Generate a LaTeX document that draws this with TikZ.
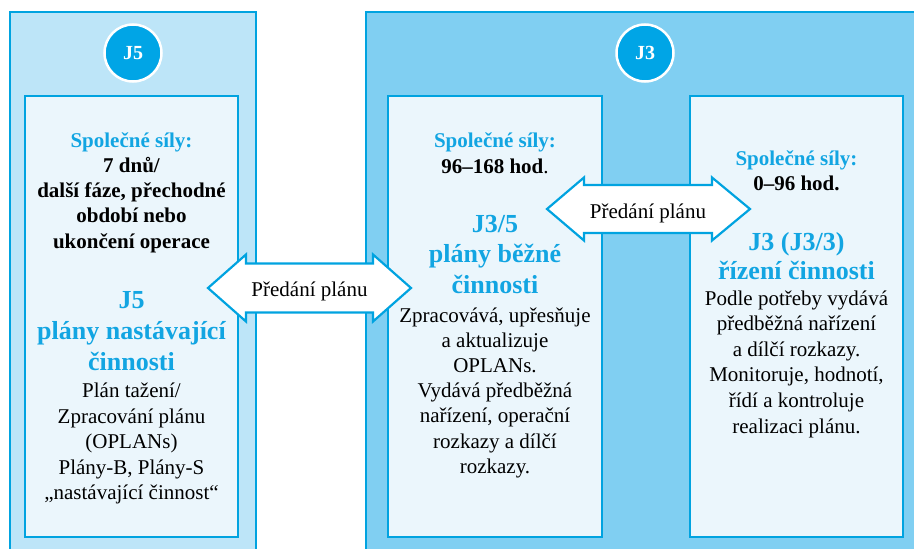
\documentclass[tikz,border=0pt]{standalone}
\usepackage{fontspec}
\setmainfont{Liberation Serif}
\definecolor{edgeblue}{HTML}{00A3E0}
\definecolor{titleblue}{HTML}{12A5E2}
\definecolor{badgeblue}{HTML}{00A5E6}
\definecolor{paneA}{HTML}{BDE5F8}
\definecolor{paneB}{HTML}{80CFF2}
\definecolor{cardfill}{HTML}{EBF6FC}
\tikzset{
  panel/.style={draw=edgeblue, line width=2pt},
  card/.style={fill=cardfill, draw=edgeblue, line width=2pt},
  badge/.style={circle, fill=badgeblue, draw=white, line width=2.5pt,
    minimum size=57pt, inner sep=0pt, text=white,
    font=\bfseries\fontsize{20}{22}\selectfont},
  handover/.style={fill=white, draw=edgeblue, line width=2.2pt, line join=miter},
  % multi-line text nodes are placed by the baseline of their last line
  txt/.style={align=center, anchor=base, inner sep=0pt},
  lead/.style={txt, font=\bfseries\fontsize{21}{25.3}\selectfont},
  heading/.style={txt, text=titleblue, font=\bfseries\fontsize{26}{30.5}\selectfont},
  body/.style={txt, font=\fontsize{21}{25.5}\selectfont},
  arrowlabel/.style={txt, font=\fontsize{21}{25}\selectfont}
}
\begin{document}
\begin{tikzpicture}[x=1pt, y=-1pt]
\useasboundingbox (0,0) rectangle (914,549);
\clip (0,0) rectangle (914,549);

% outer phase panels
\draw[panel, fill=paneA] (10,12) rectangle (256,570);
\draw[panel, fill=paneB] (366,12) rectangle (930,570);

% phase badges
\node[badge] (b5) at (133,53) {J5};
\node[badge] (b3) at (645,53) {J3};

% cards
\draw[card] (25,96) rectangle (238,537);
\draw[card] (388,96) rectangle (602,537);
\draw[card] (690,96) rectangle (903,537);

% J5 card
\node[lead] (l1) at (131.5,248.2) {\textcolor{titleblue}{Společné síly:}\\7 dnů/\\další fáze, přechodné\\období nebo\\ukončení operace};
\node[heading, font=\bfseries\fontsize{26}{31}\selectfont] (l2) at (131.5,370) {J5\\plány nastávající\\činnosti};
\node[body] (l3) at (131.5,499.5) {Plán tažení/\\Zpracování plánu\\(OPLANs)\\Plány-B, Plány-S\\„nastávající činnost“};

% J3/5 card
\node[lead] (m1) at (495,173) {\textcolor{titleblue}{Společné síly:}\\96–168 hod\textmd{.}};
\node[heading] (m2) at (495,293) {J3/5\\plány běžné\\činnosti};
\node[body, font=\fontsize{21}{25.2}\selectfont] (m3) at (495,473.2) {Zpracovává, upřesňuje\\a aktualizuje\\OPLANs.\\Vydává předběžná\\nařízení, operační\\rozkazy a dílčí\\rozkazy.};

% J3 card
\node[lead] (r1) at (796.5,190.3) {\textcolor{titleblue}{Společné síly:}\\0–96 hod.};
\node[heading, font=\bfseries\fontsize{26}{29}\selectfont] (r2) at (796.5,279) {J3 (J3/3)\\řízení činnosti};
\node[body, font=\fontsize{21}{25.6}\selectfont] (r3) at (796.5,433) {Podle potřeby vydává\\předběžná nařízení\\a dílčí rozkazy.\\Monitoruje, hodnotí,\\řídí a kontroluje\\realizaci plánu.};

% plan hand-over arrows
\draw[handover] (208,288) -- (246,254.5) -- (246,263.5) -- (373,263.5) -- (373,254.5)
  -- (411,288) -- (373,321.5) -- (373,312.5) -- (246,312.5) -- (246,321.5) -- cycle;
\node[arrowlabel] (h1) at (309.5,296) {Předání plánu};

\draw[handover] (547,209) -- (584,177.5) -- (584,185) -- (712,185) -- (712,177.5)
  -- (750,209) -- (712,240.5) -- (712,233) -- (584,233) -- (584,240.5) -- cycle;
\node[arrowlabel] (h2) at (648,218) {Předání plánu};
\end{tikzpicture}
\end{document}
